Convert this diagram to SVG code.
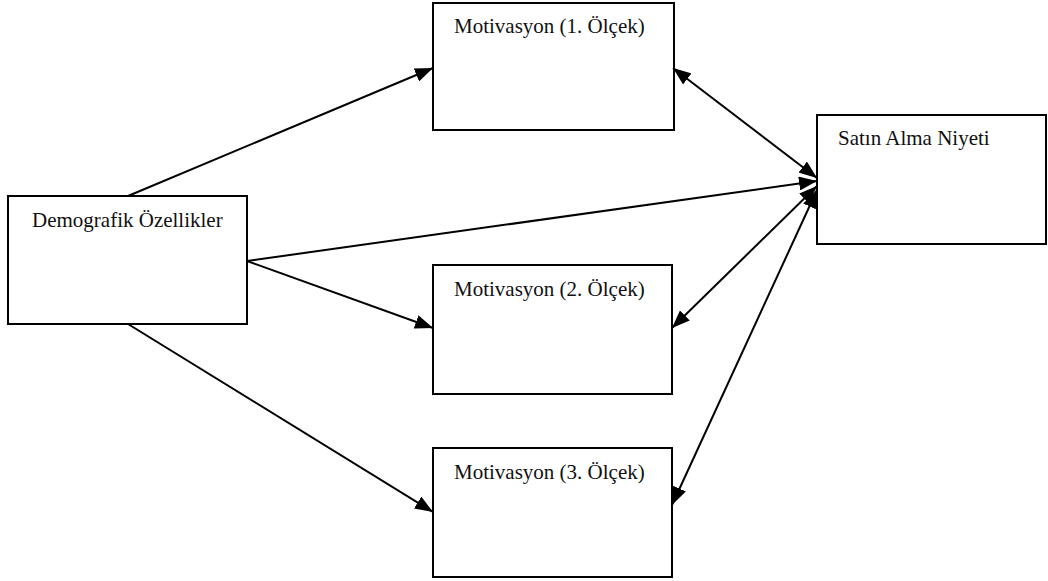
<svg xmlns="http://www.w3.org/2000/svg" width="1048" height="581" viewBox="0 0 1048 581">
<style>
.box{fill:#fff;stroke:#000;stroke-width:2}
.lbl{font-family:"Liberation Serif","Times New Roman",serif;font-size:21px;fill:#111}
.con{stroke:#000;stroke-width:2;fill:none}
</style>
<defs>
<marker id="ah" viewBox="0 0 18 14" refX="18" refY="7" markerWidth="18" markerHeight="14" markerUnits="userSpaceOnUse" orient="auto-start-reverse">
<path d="M0,0 L18,7 L0,14 z" fill="#000"/>
</marker>
</defs>
<rect width="1048" height="581" fill="#fff"/>
<g id="n-demo"><rect class="box" x="8" y="196" width="239" height="128"/><text class="lbl" x="32" y="227">Demografik Özellikler</text></g>
<g id="n-m1"><rect class="box" x="433" y="3" width="241" height="127"/><text class="lbl" x="454" y="33">Motivasyon (1. Ölçek)</text></g>
<g id="n-m2"><rect class="box" x="433" y="265" width="239" height="129"/><text class="lbl" x="454" y="296">Motivasyon (2. Ölçek)</text></g>
<g id="n-m3"><rect class="box" x="433" y="448" width="239" height="129"/><text class="lbl" x="454" y="479">Motivasyon (3. Ölçek)</text></g>
<g id="n-sat"><rect class="box" x="817" y="115" width="229" height="129"/><text class="lbl" x="838" y="145">Satın Alma Niyeti</text></g>
<g id="connectors">
<line class="con" x1="128" y1="196" x2="433" y2="68" marker-end="url(#ah)"/>
<line class="con" x1="247" y1="261" x2="817" y2="181" marker-end="url(#ah)"/>
<line class="con" x1="247" y1="261" x2="433" y2="328" marker-end="url(#ah)"/>
<line class="con" x1="128" y1="324" x2="433" y2="512" marker-end="url(#ah)"/>
<line class="con" x1="673" y1="68" x2="817" y2="178" marker-start="url(#ah)" marker-end="url(#ah)"/>
<line class="con" x1="672" y1="328" x2="817" y2="186" marker-start="url(#ah)" marker-end="url(#ah)"/>
<line class="con" x1="672" y1="505" x2="817" y2="190" marker-start="url(#ah)" marker-end="url(#ah)"/>
</g>
</svg>
